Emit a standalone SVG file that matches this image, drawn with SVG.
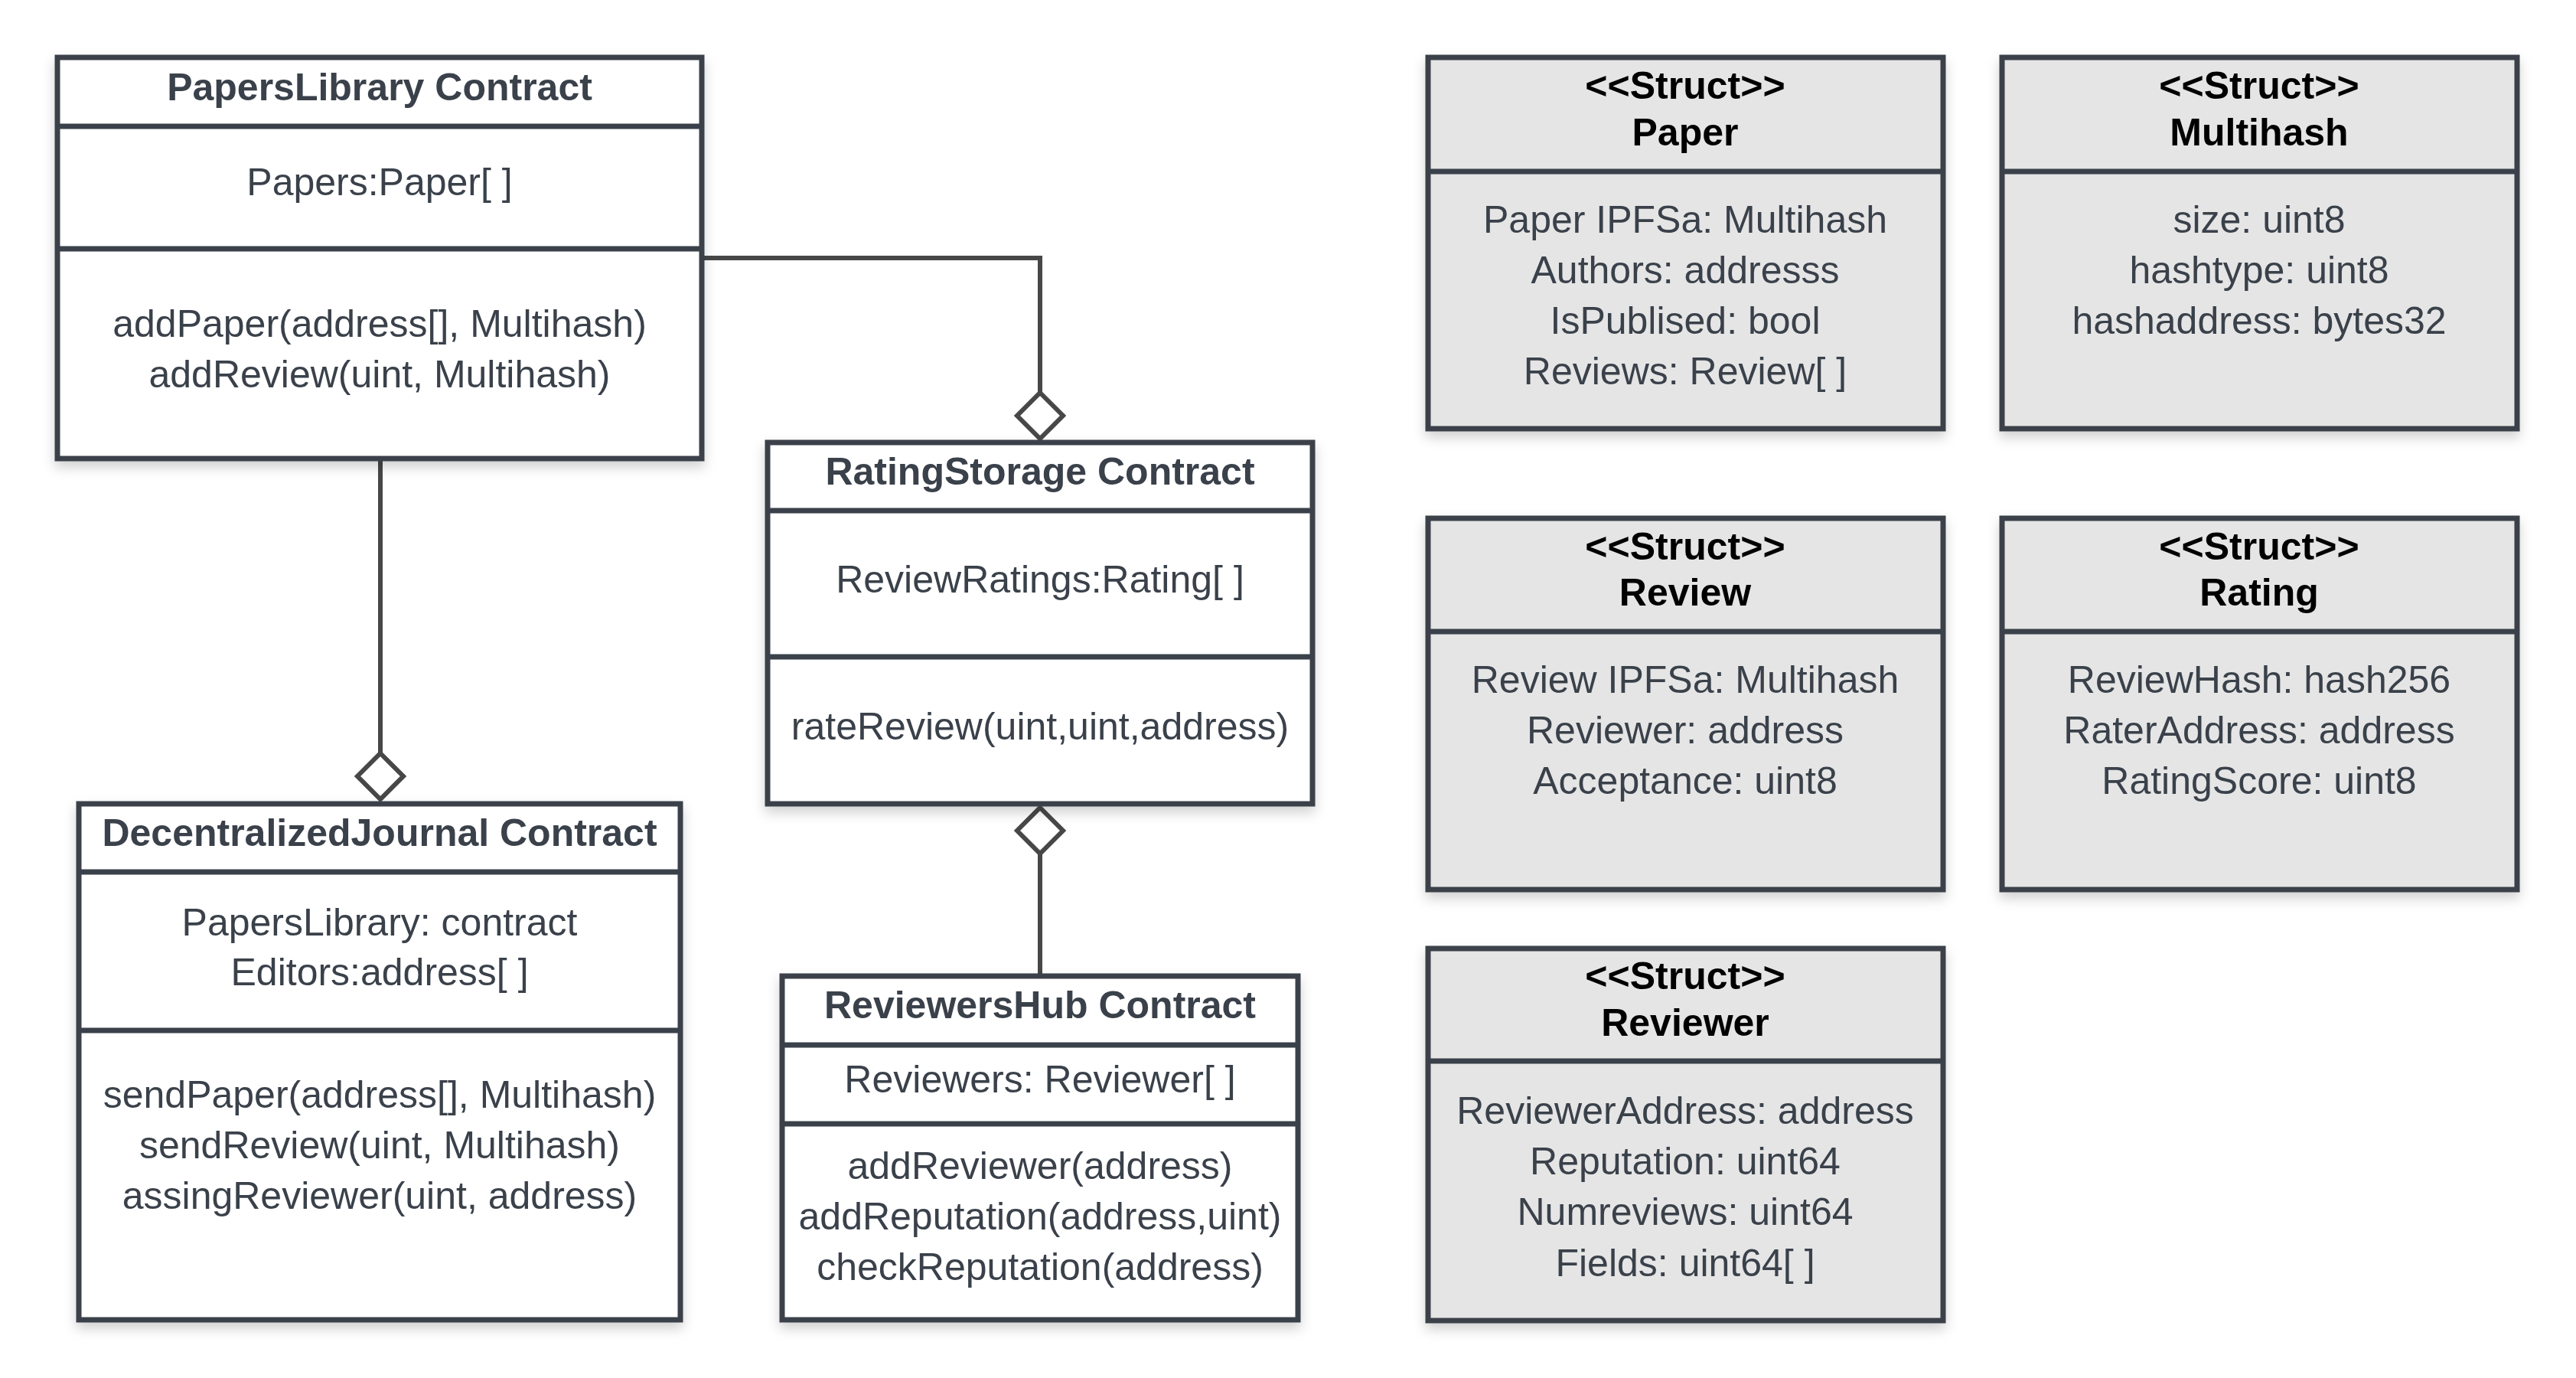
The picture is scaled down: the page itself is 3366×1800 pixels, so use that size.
<svg xmlns="http://www.w3.org/2000/svg" width="3366" height="1800" viewBox="0 0 3366 1800">
<style>
  .box { fill: #ffffff; stroke: #3a414a; stroke-width: 7; }
  .sbox { fill: #e5e5e5; stroke: #3a414a; stroke-width: 7; }
  .div { stroke: #3a414a; stroke-width: 7; }
  .t { font-family: "Liberation Sans", Arial, sans-serif; font-size: 50px; fill: #3a414a; text-anchor: middle; }
  .tb { font-family: "Liberation Sans", Arial, sans-serif; font-size: 50px; font-weight: bold; fill: #3a414a; text-anchor: middle; }
  .sb { font-family: "Liberation Sans", Arial, sans-serif; font-size: 50px; font-weight: bold; fill: #000000; text-anchor: middle; }
  .con { fill: none; stroke: #474747; stroke-width: 6; }
  .dia { fill: #ffffff; stroke: #474747; stroke-width: 6; }
</style>
<defs>
  <filter id="sh" x="-10%" y="-10%" width="120%" height="125%">
    <feDropShadow dx="0" dy="8" stdDeviation="8" flood-color="#000000" flood-opacity="0.18"/>
  </filter>
</defs>
<rect width="3366" height="1800" fill="#ffffff"/>

<g id="connectors">
  <path class="con" d="M917,337 H1359 V513"/>
  <polygon class="dia" points="1359,513 1389,543 1359,573 1329,543"/>
  <path class="con" d="M497,599 V984"/>
  <polygon class="dia" points="497,984 527,1014 497,1044 467,1014"/>
  <path class="con" d="M1359,1115 V1275"/>
  <polygon class="dia" points="1359,1055 1389,1085 1359,1115 1329,1085"/>
</g>

<g id="papersLibrary">
  <rect class="box" x="75" y="75" width="842" height="524" filter="url(#sh)"/>
  <line class="div" x1="75" y1="165" x2="917" y2="165"/>
  <line class="div" x1="75" y1="325" x2="917" y2="325"/>
  <text class="tb" x="496" y="131">PapersLibrary Contract</text>
  <text class="t" x="496" y="255">Papers:Paper[ ]</text>
  <text class="t" x="496" y="440">addPaper(address[], Multihash)</text>
  <text class="t" x="496" y="506">addReview(uint, Multihash)</text>
</g>

<g id="ratingStorage">
  <rect class="box" x="1003" y="578" width="712" height="472" filter="url(#sh)"/>
  <line class="div" x1="1003" y1="667" x2="1715" y2="667"/>
  <line class="div" x1="1003" y1="858" x2="1715" y2="858"/>
  <text class="tb" x="1359" y="633">RatingStorage Contract</text>
  <text class="t" x="1359" y="774">ReviewRatings:Rating[ ]</text>
  <text class="t" x="1359" y="966">rateReview(uint,uint,address)</text>
</g>

<g id="decentralizedJournal">
  <rect class="box" x="103" y="1050" width="786" height="674" filter="url(#sh)"/>
  <line class="div" x1="103" y1="1139" x2="889" y2="1139"/>
  <line class="div" x1="103" y1="1346" x2="889" y2="1346"/>
  <text class="tb" x="496" y="1105">DecentralizedJournal Contract</text>
  <text class="t" x="496" y="1222">PapersLibrary: contract</text>
  <text class="t" x="496" y="1287">Editors:address[ ]</text>
  <text class="t" x="496" y="1447">sendPaper(address[], Multihash)</text>
  <text class="t" x="496" y="1513">sendReview(uint, Multihash)</text>
  <text class="t" x="496" y="1579">assingReviewer(uint, address)</text>
</g>

<g id="reviewersHub">
  <rect class="box" x="1022" y="1275" width="674" height="449" filter="url(#sh)"/>
  <line class="div" x1="1022" y1="1365" x2="1696" y2="1365"/>
  <line class="div" x1="1022" y1="1468" x2="1696" y2="1468"/>
  <text class="tb" x="1359" y="1330">ReviewersHub Contract</text>
  <text class="t" x="1359" y="1427">Reviewers: Reviewer[ ]</text>
  <text class="t" x="1359" y="1540">addReviewer(address)</text>
  <text class="t" x="1359" y="1606">addReputation(address,uint)</text>
  <text class="t" x="1359" y="1672">checkReputation(address)</text>
</g>

<g id="structPaper">
  <rect class="sbox" x="1866" y="75" width="673" height="485" filter="url(#sh)"/>
  <line class="div" x1="1866" y1="224" x2="2539" y2="224"/>
  <text class="sb" x="2202" y="129">&lt;&lt;Struct&gt;&gt;</text>
  <text class="sb" x="2202" y="190">Paper</text>
  <text class="t" x="2202" y="304">Paper IPFSa: Multihash</text>
  <text class="t" x="2202" y="370">Authors: addresss</text>
  <text class="t" x="2202" y="436">IsPublised: bool</text>
  <text class="t" x="2202" y="502">Reviews: Review[ ]</text>
</g>

<g id="structMultihash">
  <rect class="sbox" x="2616" y="75" width="673" height="485" filter="url(#sh)"/>
  <line class="div" x1="2616" y1="224" x2="3289" y2="224"/>
  <text class="sb" x="2952" y="129">&lt;&lt;Struct&gt;&gt;</text>
  <text class="sb" x="2952" y="190">Multihash</text>
  <text class="t" x="2952" y="304">size: uint8</text>
  <text class="t" x="2952" y="370">hashtype: uint8</text>
  <text class="t" x="2952" y="436">hashaddress: bytes32</text>
</g>

<g id="structReview">
  <rect class="sbox" x="1866" y="677" width="673" height="485" filter="url(#sh)"/>
  <line class="div" x1="1866" y1="825" x2="2539" y2="825"/>
  <text class="sb" x="2202" y="731">&lt;&lt;Struct&gt;&gt;</text>
  <text class="sb" x="2202" y="791">Review</text>
  <text class="t" x="2202" y="905">Review IPFSa: Multihash</text>
  <text class="t" x="2202" y="971">Reviewer: address</text>
  <text class="t" x="2202" y="1037">Acceptance: uint8</text>
</g>

<g id="structRating">
  <rect class="sbox" x="2616" y="677" width="673" height="485" filter="url(#sh)"/>
  <line class="div" x1="2616" y1="825" x2="3289" y2="825"/>
  <text class="sb" x="2952" y="731">&lt;&lt;Struct&gt;&gt;</text>
  <text class="sb" x="2952" y="791">Rating</text>
  <text class="t" x="2952" y="905">ReviewHash: hash256</text>
  <text class="t" x="2952" y="971">RaterAddress: address</text>
  <text class="t" x="2952" y="1037">RatingScore: uint8</text>
</g>

<g id="structReviewer">
  <rect class="sbox" x="1866" y="1239" width="673" height="486" filter="url(#sh)"/>
  <line class="div" x1="1866" y1="1386" x2="2539" y2="1386"/>
  <text class="sb" x="2202" y="1292">&lt;&lt;Struct&gt;&gt;</text>
  <text class="sb" x="2202" y="1353">Reviewer</text>
  <text class="t" x="2202" y="1468">ReviewerAddress: address</text>
  <text class="t" x="2202" y="1534">Reputation: uint64</text>
  <text class="t" x="2202" y="1600">Numreviews: uint64</text>
  <text class="t" x="2202" y="1667">Fields: uint64[ ]</text>
</g>
</svg>
